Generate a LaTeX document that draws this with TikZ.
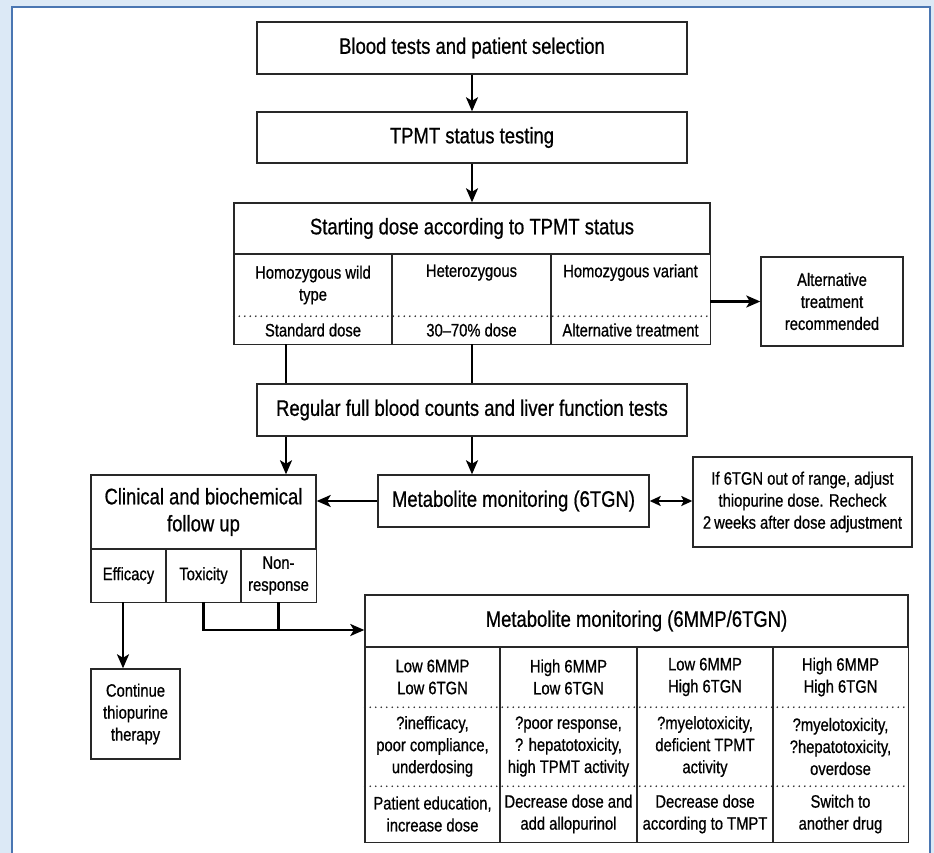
\documentclass[tikz,border=0pt]{standalone}
\usepackage{fontspec}
\setmainfont{Liberation Sans}[FakeStretch=0.82, FakeBold=0.7]
\usetikzlibrary{arrows.meta,positioning,calc}
\definecolor{bgblue}{RGB}{220,233,246}
\definecolor{frameblue}{RGB}{74,118,178}
\definecolor{boxline}{RGB}{40,40,40}
\newcommand{\ttl}{\fontsize{22.5}{27}\selectfont}
\newcommand{\sml}{\fontsize{18}{22}\selectfont}
\tikzset{
  box/.style={draw=boxline, line width=1.4pt, inner sep=0pt, align=center, font=\ttl},
  sbox/.style={box, font=\sml},
  cell/.style={inner sep=0pt, align=center, font=\sml},
  cellfr/.style={draw=boxline, line width=1.4pt},
  dotl/.style={boxline, line width=1.8pt, line cap=round, dash pattern=on 0pt off 5.5pt},
  plain/.style={black, line width=2.2pt},
  arr/.style={-{Stealth[length=14pt, width=12pt, inset=3.5pt]}, black, line width=2.2pt},
  dbl/.style={{Stealth[length=11pt, width=10pt, inset=2.5pt]}-{Stealth[length=11pt, width=10pt, inset=2.5pt]}, black, line width=2pt},
}

\begin{document}
\begin{tikzpicture}[x=1pt, y=-1pt]
  \useasboundingbox (0,0) rectangle (934,853);
  % frame
  \begin{scope}
    \clip (0,0) rectangle (934,853);
    \fill[bgblue] (0,0) rectangle (934,853);
    \filldraw[fill=white, draw=frameblue, line width=2.2pt] (12,880) -- (12,7) -- (930,7) -- (930,880);
  \end{scope}

  % top of the chart
  \node[box, minimum width=430, minimum height=52] (sel) at (472,48) {Blood tests and patient selection};
  \node[box, minimum width=430, minimum height=51] (tpmt) at (472,137.5) {TPMT status testing};
  \node[box, minimum width=476, minimum height=51] (start) at (472,228.5) {Starting dose according to TPMT status};

  % TPMT status columns
  \node[cell, minimum width=158, minimum height=62] (wt) at (313,285) {Homozygous wild\\type};
  \node[cell, minimum width=159, minimum height=62] (het) at (471.5,285) {Heterozygous\\\strut};
  \node[cell, minimum width=159, minimum height=62] (var) at (630.5,285) {Homozygous variant\\\strut};
  \node[cell, minimum width=158, minimum height=28] (wtd) at (313,330) {Standard dose};
  \node[cell, minimum width=159, minimum height=28] (hetd) at (471.5,330) {30--70\% dose};
  \node[cell, minimum width=159, minimum height=28] (vard) at (630.5,330) {Alternative treatment};
  \draw[cellfr] (wt.north west) rectangle ([xshift=-0.8pt]wtd.south east);
  \draw[cellfr] ([xshift=0.8pt]het.north west) rectangle ([xshift=-0.8pt]hetd.south east);
  \draw[cellfr] ([xshift=0.8pt]var.north west) rectangle (vard.south east);
  \draw[dotl] (wt.south west) -- (var.south east);

  \node[sbox, minimum width=142, minimum height=89] (alt) at (832,301.5) {Alternative\\treatment\\recommended};

  \node[box, minimum width=430, minimum height=52] (reg) at (472,410) {Regular full blood counts and liver function tests};

  % follow up
  \node[box, minimum width=225, minimum height=74] (clin) at (203.5,512) {Clinical and biochemical\\follow up};
  \node[cell, minimum width=75, minimum height=53] (eff) at (128.5,575.5) {Efficacy};
  \node[cell, minimum width=75, minimum height=53] (tox) at (203.5,575.5) {Toxicity};
  \node[cell, minimum width=75, minimum height=53] (nonr) at (278.5,575.5) {Non-\\response};
  \draw[cellfr] (eff.north west) rectangle ([xshift=-0.8pt]eff.south east);
  \draw[cellfr] ([xshift=0.8pt]tox.north west) rectangle ([xshift=-0.8pt]tox.south east);
  \draw[cellfr] ([xshift=0.8pt]nonr.north west) rectangle (nonr.south east);

  \node[box, minimum width=271, minimum height=52] (tgn) at (513.5,501) {Metabolite monitoring (6TGN)};
  \node[sbox, minimum width=219, minimum height=90] (info) at (802.5,502) {If 6TGN out of range, adjust\\thiopurine dose. Recheck\\2\,weeks after dose adjustment};

  \node[sbox, minimum width=89, minimum height=90] (cont) at (135.5,714) {Continue\\thiopurine\\therapy};

  % 6MMP/6TGN table
  \node[box, minimum width=543, minimum height=52] (mmp) at (636.5,621) {Metabolite monitoring (6MMP/6TGN)};
  \node[cell, minimum width=135, minimum height=60] (ll1) at (432.5,677) {Low 6MMP\\Low 6TGN};
  \node[cell, minimum width=137, minimum height=60] (hl1) at (568.5,677) {High 6MMP\\Low 6TGN};
  \node[cell, minimum width=136, minimum height=60] (lh1) at (705,677) {Low 6MMP\\High 6TGN};
  \node[cell, minimum width=135, minimum height=60] (hh1) at (840.5,677) {High 6MMP\\High 6TGN};
  \node[cell, minimum width=135, minimum height=79] (ll2) at (432.5,746.5) {?inefficacy,\\poor compliance,\\underdosing};
  \node[cell, minimum width=137, minimum height=79] (hl2) at (568.5,746.5) {?poor response,\\? hepatotoxicity,\\high TPMT activity};
  \node[cell, minimum width=136, minimum height=79] (lh2) at (705,746.5) {?myelotoxicity,\\deficient TPMT\\activity};
  \node[cell, minimum width=135, minimum height=79] (hh2) at (840.5,746.5) {?myelotoxicity,\\?hepatotoxicity,\\overdose};
  \node[cell, minimum width=135, minimum height=56] (ll3) at (432.5,814) {Patient education,\\increase dose};
  \node[cell, minimum width=137, minimum height=56] (hl3) at (568.5,814) {Decrease dose and\\add allopurinol};
  \node[cell, minimum width=136, minimum height=56] (lh3) at (705,814) {Decrease dose\\according to TMPT};
  \node[cell, minimum width=135, minimum height=56] (hh3) at (840.5,814) {Switch to\\another drug};
  \draw[cellfr] (ll1.north west) rectangle ([xshift=-0.8pt]ll3.south east);
  \draw[cellfr] ([xshift=0.8pt]hl1.north west) rectangle ([xshift=-0.8pt]hl3.south east);
  \draw[cellfr] ([xshift=0.8pt]lh1.north west) rectangle ([xshift=-0.8pt]lh3.south east);
  \draw[cellfr] ([xshift=0.8pt]hh1.north west) rectangle (hh3.south east);
  \draw[dotl] (ll1.south west) -- (hh1.south east);
  \draw[dotl] (ll2.south west) -- (hh2.south east);

  % connectors
  \coordinate (ax) at (286,0);
  \coordinate (bx) at (472,0);
  \coordinate (ex) at (123,0);
  \coordinate (jn) at (0,630);
  \draw[arr] (sel.south) -- (tpmt.north);
  \draw[arr] (tpmt.south) -- (start.north);
  \draw[arr] (var.south east |- alt.west) -- (alt.west);
  \draw[plain] (wtd.south -| ax) -- (reg.north -| ax);
  \draw[plain] (hetd.south -| bx) -- (reg.north -| bx);
  \draw[arr] (reg.south -| ax) -- (clin.north -| ax);
  \draw[arr] (reg.south -| bx) -- (tgn.north -| bx);
  \draw[arr] (tgn.west) -- (tgn.west -| clin.east);
  \draw[dbl] (tgn.east) -- (tgn.east -| info.west);
  \draw[arr] (eff.south -| ex) -- (cont.north -| ex);
  \draw[plain] (tox.south) |- (jn -| nonr.south) -- (nonr.south);
  \draw[arr] (jn -| nonr.south) -- (jn -| mmp.west);
\end{tikzpicture}
\end{document}
